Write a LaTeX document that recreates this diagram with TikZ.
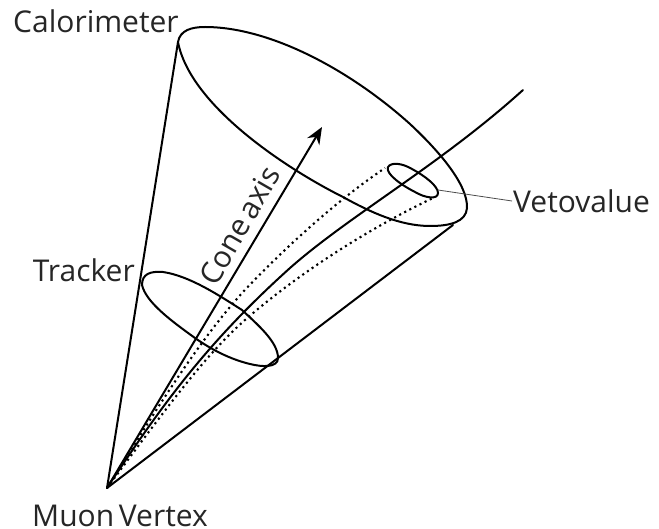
\documentclass[tikz,border=0pt]{standalone}
\usepackage{fontspec}
\setmainfont[WordSpace=0.6]{Open Sans}
\usetikzlibrary{arrows.meta}
\tikzset{
  heavy/.style={draw=black,line width=2pt,line cap=round,line join=round},
  dots/.style={draw=black,line width=2.1pt,dash pattern=on 2.1pt off 3.6pt},
  lbl/.style={inner sep=0pt,text=black!85,font=\fontsize{30}{34}\selectfont},
  thin line/.style={draw=black!70,line width=0.8pt}
}
\begin{document}
\begin{tikzpicture}[x=1pt,y=-1pt]
\useasboundingbox (0,0) rectangle (659,529);
\coordinate (vtx) at (107,488);
\coordinate (calL) at (178,42);
\coordinate (calR) at (453,225);
\coordinate (axis) at (322,127);
\coordinate (vetoPt) at (438,190);
\coordinate (vetoEnd) at (512,201);
% cone
\draw[heavy] (vtx) -- (calL);
\draw[heavy] (vtx) -- (calR);
% calorimeter ellipse
\draw[heavy] (calL) .. controls (180,30) and (192,27) .. (205,27)
  .. controls (270,27) and (350,70) .. (410,124)
  .. controls (440,152) and (468,185) .. (467,208)
  .. controls (466,222) and (450,226) .. (430,226)
  .. controls (400,226) and (370,212) .. (343,197)
  .. controls (285,168) and (190,105) .. (calL);
% tracker ellipse
\draw[heavy] (142,285) .. controls (142,274) and (150,271) .. (163,272)
  .. controls (190,276) and (220,296) .. (242,310)
  .. controls (258,325) and (278,342) .. (278,358)
  .. controls (278,368) and (262,367) .. (250,364)
  .. controls (225,358) and (205,345) .. (195,338)
  .. controls (170,320) and (146,302) .. (142,285);
% veto ellipse
\draw[heavy] (388,167) .. controls (391,162) and (402,163) .. (412,169)
  .. controls (425,176) and (438,186) .. (438,193)
  .. controls (438,200) and (425,198) .. (415,192)
  .. controls (403,186) and (385,174) .. (388,167);
% dotted
\draw[dots] (vtx) .. controls (150,420) and (195,345) .. (243,292)
  .. controls (275,258) and (330,205) .. (385,168);
\draw[dots] (vtx) .. controls (165,410) and (205,355) .. (245,320)
  .. controls (300,272) and (370,228) .. (433,198);
% track
\draw[heavy] (vtx) .. controls (165,400) and (210,340) .. (290,268)
  .. controls (350,215) and (440,165) .. (523,90);
% axis
\draw[heavy,-{Stealth[length=17pt,width=14pt]}] (vtx) -- (axis);
% veto leader
\draw[thin line] (vetoPt) -- (vetoEnd);
% labels
\node[lbl,anchor=base west] (cal) at (13,33) {Calorimeter};
\node[lbl,anchor=base east] (trk) at (135,282) {Tracker};
\node[lbl,anchor=base west] (veto) at (513,213) {Vetovalue};
\node[lbl,anchor=base] (muon) at (120,526) {Muon Vertex};
\node[lbl,rotate=60,anchor=base] (cone) at (249,231) {Cone axis};
\end{tikzpicture}
\end{document}
